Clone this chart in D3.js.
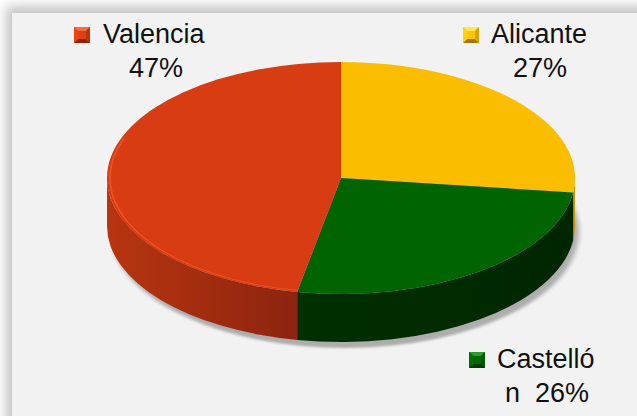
<!DOCTYPE html>
<html>
<head>
<meta charset="utf-8">
<script src="https://cdn.jsdelivr.net/npm/d3@7"></script>
<style>
  html, body { margin: 0; padding: 0; background: #fff; }
  svg { display: block; }
</style>
</head>
<body>
<div id="chart"></div>
<script>
// Pie order, clockwise from 12 o'clock
const categories = ["Alicante", "Castelló", "Valencia"];
const values = [27, 26, 47];
const labelLines = [["Alicante", "27%"], ["Castelló", "n  26%"], ["Valencia", "47%"]];

const width = 637;
const height = 416;

const topColors = ["#fbbd00", "#006400", "#d73c13"];
const wallLeft = ["#d8a200", "#003600", "#b8350f"];
const wallRight = ["#c89400", "#002600", "#8c2410"];
const markerLight = ["#ffe45a", "#2c9a2c", "#f2703e"];
const markerDark = ["#a07800", "#003c00", "#8c240c"];

const svg = d3.select("#chart").append("svg")
  .attr("width", width).attr("height", height)
  .attr("viewBox", [0, 0, width, height]);

const defs = svg.append("defs");

defs.append("filter").attr("id", "panelShadow")
  .attr("x", "-10%").attr("y", "-10%").attr("width", "120%").attr("height", "120%")
  .append("feGaussianBlur").attr("stdDeviation", 6);

defs.append("filter").attr("id", "pieShadow")
  .attr("x", "-10%").attr("y", "-10%").attr("width", "120%").attr("height", "130%")
  .append("feGaussianBlur").attr("stdDeviation", 2.5);

categories.forEach((c, i) => {
  const g = defs.append("linearGradient").attr("id", "wall" + i)
    .attr("gradientUnits", "userSpaceOnUse")
    .attr("x1", -234).attr("x2", i === 2 ? -44 : 234).attr("y1", 0).attr("y2", 0);
  g.append("stop").attr("offset", 0).attr("stop-color", wallLeft[i]);
  g.append("stop").attr("offset", 1).attr("stop-color", wallRight[i]);
});

// Panel with soft outer shadow
svg.append("rect").attr("x", 6).attr("y", 6).attr("width", width + 20).attr("height", height + 20)
  .attr("fill", "#c4c4c4").attr("filter", "url(#panelShadow)");
svg.append("rect").attr("x", 12).attr("y", 13).attr("width", width).attr("height", height)
  .attr("fill", "#f2f2f2");

// Pie geometry (ellipse projection)
const cx = 341, cy = 178, rx = 234, ry = 116, depth = 48;
const k = ry / rx;
const dScaled = depth / k;

const arcs = d3.pie().sort(null).value(d => d)(values);

const pieG = svg.append("g").attr("transform", `translate(${cx},${cy}) scale(1,${k})`);

// shadow under pie
pieG.append("ellipse")
  .attr("cx", 4).attr("cy", dScaled + 6 / k).attr("rx", rx).attr("ry", rx)
  .attr("fill", "#000").attr("opacity", 0.28).attr("filter", "url(#pieShadow)");

// side walls (front half only: angles between PI/2 and 3PI/2)
const half = Math.PI / 2;
arcs.forEach((a, i) => {
  const s = Math.max(a.startAngle, half);
  const e = Math.min(a.endAngle, 3 * half);
  if (e <= s) return;
  const p = d3.path();
  p.arc(0, 0, rx, s - half, e - half);
  p.arc(0, dScaled, rx, e - half, s - half, true);
  p.closePath();
  pieG.append("path").attr("d", p.toString()).attr("fill", `url(#wall${i})`);
});

// top faces
const arc = d3.arc().innerRadius(0).outerRadius(rx);
pieG.selectAll("path.top").data(arcs).enter().append("path")
  .attr("class", "top")
  .attr("d", arc)
  .attr("fill", (d, i) => topColors[i]);

// light rim on the red front edge
{
  const a = arcs[2];
  const p = d3.path();
  p.arc(0, 0, rx - 3, a.startAngle - half, 3 * half - half + 0.35);
  pieG.append("path").attr("d", p.toString())
    .attr("fill", "none").attr("stroke", "#ff5e22").attr("stroke-width", 1.6)
    .attr("opacity", 0.7);
}

// Legend labels
const labelPos = [
  { mx: 463, my: 27, tx: 491, ty: 43, px: 540, py: 77, anchor: "middle" },
  { mx: 469, my: 352, tx: 497, ty: 368, px: 505, py: 402, anchor: "start" },
  { mx: 74, my: 27, tx: 103, ty: 43, px: 156, py: 77, anchor: "middle" }
];

const ms = 16, b = 4;
categories.forEach((c, i) => {
  const lp = labelPos[i];
  const g = svg.append("g").attr("transform", `translate(${lp.mx},${lp.my})`);
  // bevelled square marker
  g.append("rect").attr("width", ms).attr("height", ms).attr("fill", topColors[i]);
  g.append("path").attr("d", `M0,0L${ms},0L${ms - b},${b}L${b},${b}Z`).attr("fill", markerLight[i]);
  g.append("path").attr("d", `M0,${ms}L${ms},${ms}L${ms - b},${ms - b}L${b},${ms - b}Z`).attr("fill", markerDark[i]);
  g.append("path").attr("d", `M0,0L${b},${b}L${b},${ms - b}L0,${ms}Z`).attr("fill", d3.color(topColors[i]).brighter(0.3));
  g.append("path").attr("d", `M${ms},0L${ms - b},${b}L${ms - b},${ms - b}L${ms},${ms}Z`).attr("fill", d3.color(topColors[i]).darker(0.4));
  g.append("rect").attr("x", b).attr("y", b).attr("width", ms - 2 * b).attr("height", ms - 2 * b)
    .attr("fill", d3.color(topColors[i]).brighter(0.15));

  svg.append("text").attr("x", lp.tx).attr("y", lp.ty)
    .attr("font-family", "'Liberation Sans', Arial, sans-serif").attr("font-size", 27)
    .attr("fill", "#111").text(labelLines[i][0]);
  svg.append("text").attr("x", lp.px).attr("y", lp.py)
    .attr("text-anchor", lp.anchor)
    .attr("font-family", "'Liberation Sans', Arial, sans-serif").attr("font-size", 27)
    .attr("fill", "#111").style("white-space", "pre").text(labelLines[i][1]);
});
</script>
</body>
</html>
